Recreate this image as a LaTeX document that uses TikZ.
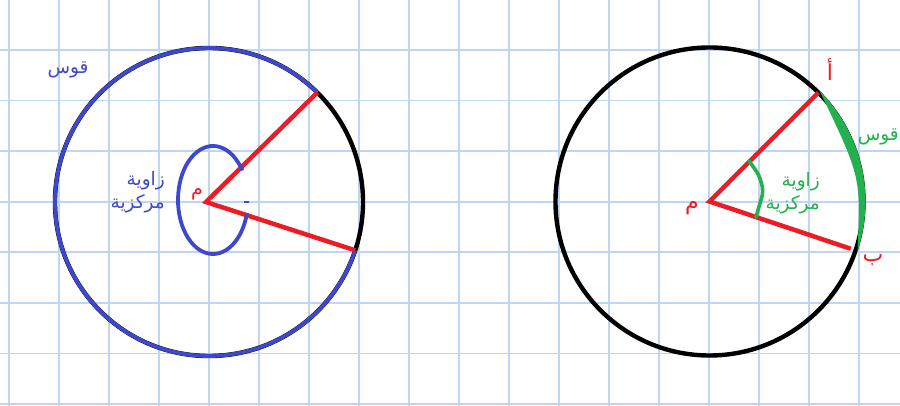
\documentclass[tikz,border=0pt]{standalone}
\usepackage{fontspec}
\newfontfamily\arabicfont[Script=Arabic]{DejaVu Sans}
\TeXXeTstate=1

\definecolor{gridblue}{RGB}{190,214,243}
\definecolor{paintred}{RGB}{237,28,36}
\definecolor{paintblue}{RGB}{63,72,204}
\definecolor{paintgreen}{RGB}{34,177,76}

\newcommand*{\rad}{154}
\newcommand*{\angA}{45.3}
\newcommand*{\angB}{-18.3}

\begin{document}
\begin{tikzpicture}
[
	x=1pt, y=1pt,
	gridline/.style={gridblue,line width=1.8pt},
	rim/.style={black,line width=4pt},
	radiusline/.style={paintred,line width=4.5pt},
	arclbl/.style={font=\arabicfont\fontsize{18.5}{23}\selectfont,align=right,inner sep=0pt},
	ptlbl/.style={paintred,font=\arabicfont\fontsize{22}{24}\selectfont,inner sep=0pt}
]

	% page and squared paper
	\fill[white] (0,0) rectangle (900,406);
	\useasboundingbox (0,0) rectangle (900,406);
	\foreach \i in {0,...,17}
		\draw[gridline] (9.3+50*\i,0) -- (9.3+50*\i,406);
	\foreach \j in {0,...,7}
		\draw[gridline] (0,356-50.6*\j) -- (900,356-50.6*\j);

	% left circle: major arc and reflex angle
	\coordinate (lc) at (209,204);
	\coordinate (lm) at (206,204);
	\coordinate (la) at ([shift={(lc)}]\angA:\rad);
	\coordinate (lb) at ([shift={(lc)}]\angB:\rad);
	\draw[rim,line width=4.4pt] (lc) circle[radius=\rad];
	\draw[paintblue,line width=3.8pt] (la) arc[start angle=\angA, end angle=341.7, radius=\rad];
	\draw[radiusline] (la) -- (lm) -- (lb);
	%
	\coordinate (le) at (213,206);
	\draw[paintblue,line width=3.8pt] ([shift={(le)}]33:35 and 54)
		arc[start angle=33, end angle=346, x radius=35, y radius=54];
	\draw[paintblue,line width=1.2pt] (244,204) -- (249,204);
	%
	\node[ptlbl,font=\arabicfont\fontsize{19}{20}\selectfont] (lmlbl) at (197,212) {\beginR م\endR};
	\node[arclbl,paintblue,anchor=east] (langle) at (165,214) {\beginR زاوية\endR\\\beginR مركزية\endR};
	\node[arclbl,paintblue] (larc) at (68,336) {\beginR قوس\endR};

	% right circle: minor arc and central angle
	\coordinate (rc) at (709.5,204.5);
	\coordinate (ra) at ([shift={(rc)}]45:\rad);
	\coordinate (rb) at ([shift={(rc)}]-18.5:149);
	\draw[rim,line width=4.4pt] (rc) circle[radius=\rad];
	\fill[paintgreen] ([shift={(rc)}]45:156) arc[start angle=45, end angle=-18.5, radius=156]
		.. controls ([shift={(rc)}]151.5,24.4) .. ([shift={(rc)}]45:156) -- cycle;
	\draw[radiusline] (ra) -- (rc) -- (rb);
	\draw[paintgreen,line width=3.6pt,line cap=round,rounded corners=6pt] ([shift={(rc)}]45.5:56.6)
		.. controls ([shift={(rc)}]50,26) .. ([shift={(rc)}]54,10) -- ([shift={(rc)}]-18.8:49);
	%
	\node[ptlbl] (ralbl) at (830,336) {\beginR أ\endR};
	\node[ptlbl] (rmlbl) at (692,198) {\beginR م\endR};
	\node[ptlbl] (rblbl) at (873,146) {\beginR ب\endR};
	\node[arclbl,paintgreen,anchor=east] (rangle) at (820,213) {\beginR زاوية\endR\\\beginR مركزية\endR};
	\node[arclbl,paintgreen,anchor=east] (rarc) at (899,269) {\beginR قوس\endR};

\end{tikzpicture}
\end{document}
